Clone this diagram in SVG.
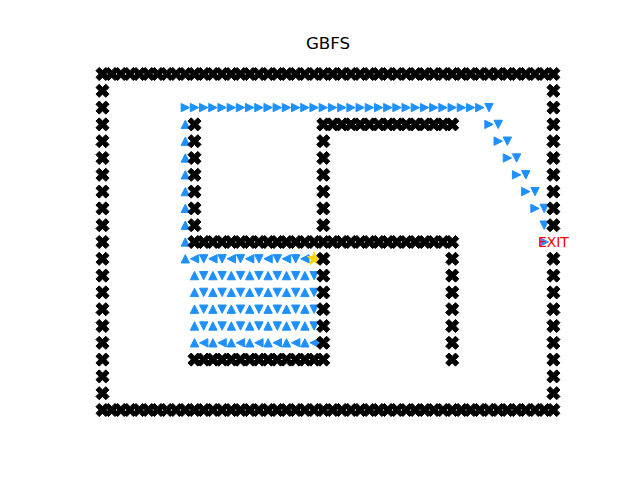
<svg xmlns="http://www.w3.org/2000/svg" width="640" height="480" viewBox="0 0 640 480">
<style>
.title{font-family:"DejaVu Sans",sans-serif;font-size:16.67px;fill:#000;text-anchor:middle}
.exit{font-family:"DejaVu Sans",sans-serif;font-size:13.9px;fill:#ff0000;text-anchor:middle}
#walls{fill:#000;stroke:#000;stroke-width:1;stroke-linejoin:miter}
#path{fill:#1e90ff;stroke:#1e90ff;stroke-width:1;stroke-linejoin:miter}
</style>
<defs>
<path id="X" d="M3.27,-6.55L6.55,-3.27L3.27,0L6.55,3.27L3.27,6.55L0,3.27L-3.27,6.55L-6.55,3.27L-3.27,0L-6.55,-3.27L-3.27,-6.55L0,-3.27Z"/>
<path id="u" d="M0,-4.17L-4.17,4.17L4.17,4.17Z"/>
<path id="d" d="M0,4.17L-4.17,-4.17L4.17,-4.17Z"/>
<path id="l" d="M-4.17,0L4.17,-4.17L4.17,4.17Z"/>
<path id="r" d="M4.17,0L-4.17,-4.17L-4.17,4.17Z"/>
</defs>
<rect width="640" height="480" fill="#fff"/>
<text class="title" x="328" y="49">GBFS</text>

<g id="path">
<g id="row2" transform="translate(0 107.6)">
<use href="#r" x="185.3"/><use href="#r" x="194.5"/><use href="#r" x="203.7"/><use href="#r" x="212.9"/><use href="#r" x="222.1"/><use href="#r" x="231.3"/><use href="#r" x="240.5"/><use href="#r" x="249.7"/><use href="#r" x="258.9"/><use href="#r" x="268.1"/><use href="#r" x="277.3"/><use href="#r" x="286.5"/><use href="#r" x="295.7"/><use href="#r" x="304.9"/><use href="#r" x="314.1"/><use href="#r" x="323.3"/><use href="#r" x="332.6"/><use href="#r" x="341.8"/><use href="#r" x="351.0"/><use href="#r" x="360.2"/><use href="#r" x="369.4"/><use href="#r" x="378.6"/><use href="#r" x="387.8"/><use href="#r" x="397.0"/><use href="#r" x="406.2"/><use href="#r" x="415.4"/><use href="#r" x="424.6"/><use href="#r" x="433.8"/><use href="#r" x="443.0"/><use href="#r" x="452.2"/><use href="#r" x="461.4"/><use href="#r" x="470.6"/><use href="#r" x="479.8"/><use href="#d" x="489.0"/>
</g>
<g id="stairs">
<use href="#r" x="489.0" y="124.4"/><use href="#d" x="498.2" y="124.4"/>
<use href="#r" x="498.2" y="141.2"/><use href="#d" x="507.4" y="141.2"/>
<use href="#r" x="507.4" y="158.0"/><use href="#d" x="516.6" y="158.0"/>
<use href="#r" x="516.6" y="174.8"/><use href="#d" x="525.8" y="174.8"/>
<use href="#r" x="525.8" y="191.6"/><use href="#d" x="535.0" y="191.6"/>
<use href="#r" x="535.0" y="208.4"/><use href="#d" x="544.2" y="208.4"/>
<use href="#d" x="544.2" y="225.2"/>
<use href="#r" x="544.2" y="242.0"/>
</g>
<g id="col9" transform="translate(185.3 0)">
<use href="#u" y="124.4"/><use href="#u" y="141.2"/><use href="#u" y="158.0"/><use href="#u" y="174.8"/><use href="#u" y="191.6"/><use href="#u" y="208.4"/><use href="#u" y="225.2"/><use href="#u" y="242.0"/><use href="#u" y="258.8"/>
</g>
<g id="row11" transform="translate(0 258.8)">
<use href="#l" x="194.5"/><use href="#d" x="203.7"/><use href="#l" x="212.9"/><use href="#d" x="222.1"/><use href="#l" x="231.3"/><use href="#d" x="240.5"/><use href="#l" x="249.7"/><use href="#d" x="258.9"/><use href="#l" x="268.1"/><use href="#d" x="277.3"/><use href="#l" x="286.5"/><use href="#d" x="295.7"/><use href="#l" x="304.9"/>
</g>
<g id="row12" transform="translate(0 275.6)">
<use href="#u" x="194.5"/><use href="#d" x="203.7"/><use href="#u" x="212.9"/><use href="#d" x="222.1"/><use href="#u" x="231.3"/><use href="#d" x="240.5"/><use href="#u" x="249.7"/><use href="#d" x="258.9"/><use href="#u" x="268.1"/><use href="#d" x="277.3"/><use href="#u" x="286.5"/><use href="#d" x="295.7"/><use href="#u" x="304.9"/><use href="#d" x="314.1"/>
</g>
<g id="row13" transform="translate(0 292.4)">
<use href="#u" x="194.5"/><use href="#d" x="203.7"/><use href="#u" x="212.9"/><use href="#d" x="222.1"/><use href="#u" x="231.3"/><use href="#d" x="240.5"/><use href="#u" x="249.7"/><use href="#d" x="258.9"/><use href="#u" x="268.1"/><use href="#d" x="277.3"/><use href="#u" x="286.5"/><use href="#d" x="295.7"/><use href="#u" x="304.9"/><use href="#d" x="314.1"/>
</g>
<g id="row14" transform="translate(0 309.2)">
<use href="#u" x="194.5"/><use href="#d" x="203.7"/><use href="#u" x="212.9"/><use href="#d" x="222.1"/><use href="#u" x="231.3"/><use href="#d" x="240.5"/><use href="#u" x="249.7"/><use href="#d" x="258.9"/><use href="#u" x="268.1"/><use href="#d" x="277.3"/><use href="#u" x="286.5"/><use href="#d" x="295.7"/><use href="#u" x="304.9"/><use href="#d" x="314.1"/>
</g>
<g id="row15" transform="translate(0 326.0)">
<use href="#u" x="194.5"/><use href="#d" x="203.7"/><use href="#u" x="212.9"/><use href="#d" x="222.1"/><use href="#u" x="231.3"/><use href="#d" x="240.5"/><use href="#u" x="249.7"/><use href="#d" x="258.9"/><use href="#u" x="268.1"/><use href="#d" x="277.3"/><use href="#u" x="286.5"/><use href="#d" x="295.7"/><use href="#u" x="304.9"/><use href="#d" x="314.1"/>
</g>
<g id="row16" transform="translate(0 342.8)">
<use href="#u" x="194.5"/><use href="#l" x="203.7"/><use href="#u" x="212.9"/><use href="#l" x="222.1"/><use href="#u" x="231.3"/><use href="#l" x="240.5"/><use href="#u" x="249.7"/><use href="#l" x="258.9"/><use href="#u" x="268.1"/><use href="#l" x="277.3"/><use href="#u" x="286.5"/><use href="#l" x="295.7"/><use href="#u" x="304.9"/><use href="#l" x="314.1"/>
</g>
</g>

<g id="start" transform="translate(314.1 258.8)">
<path d="M0,-7L1.57,-2.16L6.66,-2.16L2.54,0.83L4.11,5.66L0,2.67L-4.11,5.66L-2.54,0.83L-6.66,-2.16L-1.57,-2.16Z" fill="#ffd700" stroke="#ffd700" stroke-width="1"/>
</g>

<g id="walls">
<g id="wrow0" transform="translate(0 74)">
<use href="#X" x="102.5"/><use href="#X" x="111.7"/><use href="#X" x="120.9"/><use href="#X" x="130.1"/><use href="#X" x="139.3"/><use href="#X" x="148.5"/><use href="#X" x="157.7"/><use href="#X" x="166.9"/><use href="#X" x="176.1"/><use href="#X" x="185.3"/><use href="#X" x="194.5"/><use href="#X" x="203.7"/><use href="#X" x="212.9"/><use href="#X" x="222.1"/><use href="#X" x="231.3"/><use href="#X" x="240.5"/><use href="#X" x="249.7"/><use href="#X" x="258.9"/><use href="#X" x="268.1"/><use href="#X" x="277.3"/><use href="#X" x="286.5"/><use href="#X" x="295.7"/><use href="#X" x="304.9"/><use href="#X" x="314.1"/><use href="#X" x="323.3"/><use href="#X" x="332.6"/><use href="#X" x="341.8"/><use href="#X" x="351.0"/><use href="#X" x="360.2"/><use href="#X" x="369.4"/><use href="#X" x="378.6"/><use href="#X" x="387.8"/><use href="#X" x="397.0"/><use href="#X" x="406.2"/><use href="#X" x="415.4"/><use href="#X" x="424.6"/><use href="#X" x="433.8"/><use href="#X" x="443.0"/><use href="#X" x="452.2"/><use href="#X" x="461.4"/><use href="#X" x="470.6"/><use href="#X" x="479.8"/><use href="#X" x="489.0"/><use href="#X" x="498.2"/><use href="#X" x="507.4"/><use href="#X" x="516.6"/><use href="#X" x="525.8"/><use href="#X" x="535.0"/><use href="#X" x="544.2"/><use href="#X" x="553.4"/>
</g>
<g id="wrow20" transform="translate(0 410)">
<use href="#X" x="102.5"/><use href="#X" x="111.7"/><use href="#X" x="120.9"/><use href="#X" x="130.1"/><use href="#X" x="139.3"/><use href="#X" x="148.5"/><use href="#X" x="157.7"/><use href="#X" x="166.9"/><use href="#X" x="176.1"/><use href="#X" x="185.3"/><use href="#X" x="194.5"/><use href="#X" x="203.7"/><use href="#X" x="212.9"/><use href="#X" x="222.1"/><use href="#X" x="231.3"/><use href="#X" x="240.5"/><use href="#X" x="249.7"/><use href="#X" x="258.9"/><use href="#X" x="268.1"/><use href="#X" x="277.3"/><use href="#X" x="286.5"/><use href="#X" x="295.7"/><use href="#X" x="304.9"/><use href="#X" x="314.1"/><use href="#X" x="323.3"/><use href="#X" x="332.6"/><use href="#X" x="341.8"/><use href="#X" x="351.0"/><use href="#X" x="360.2"/><use href="#X" x="369.4"/><use href="#X" x="378.6"/><use href="#X" x="387.8"/><use href="#X" x="397.0"/><use href="#X" x="406.2"/><use href="#X" x="415.4"/><use href="#X" x="424.6"/><use href="#X" x="433.8"/><use href="#X" x="443.0"/><use href="#X" x="452.2"/><use href="#X" x="461.4"/><use href="#X" x="470.6"/><use href="#X" x="479.8"/><use href="#X" x="489.0"/><use href="#X" x="498.2"/><use href="#X" x="507.4"/><use href="#X" x="516.6"/><use href="#X" x="525.8"/><use href="#X" x="535.0"/><use href="#X" x="544.2"/><use href="#X" x="553.4"/>
</g>
<g id="wcol0" transform="translate(102.5 0)">
<use href="#X" y="90.8"/><use href="#X" y="107.6"/><use href="#X" y="124.4"/><use href="#X" y="141.2"/><use href="#X" y="158.0"/><use href="#X" y="174.8"/><use href="#X" y="191.6"/><use href="#X" y="208.4"/><use href="#X" y="225.2"/><use href="#X" y="242.0"/><use href="#X" y="258.8"/><use href="#X" y="275.6"/><use href="#X" y="292.4"/><use href="#X" y="309.2"/><use href="#X" y="326.0"/><use href="#X" y="342.8"/><use href="#X" y="359.6"/><use href="#X" y="376.4"/><use href="#X" y="393.2"/>
</g>
<g id="wcol49" transform="translate(553.4 0)">
<use href="#X" y="90.8"/><use href="#X" y="107.6"/><use href="#X" y="124.4"/><use href="#X" y="141.2"/><use href="#X" y="158.0"/><use href="#X" y="174.8"/><use href="#X" y="191.6"/><use href="#X" y="208.4"/><use href="#X" y="225.2"/><use href="#X" y="258.8"/><use href="#X" y="275.6"/><use href="#X" y="292.4"/><use href="#X" y="309.2"/><use href="#X" y="326.0"/><use href="#X" y="342.8"/><use href="#X" y="359.6"/><use href="#X" y="376.4"/><use href="#X" y="393.2"/>
</g>
<g id="wrow10" transform="translate(0 242)">
<use href="#X" x="194.5"/><use href="#X" x="203.7"/><use href="#X" x="212.9"/><use href="#X" x="222.1"/><use href="#X" x="231.3"/><use href="#X" x="240.5"/><use href="#X" x="249.7"/><use href="#X" x="258.9"/><use href="#X" x="268.1"/><use href="#X" x="277.3"/><use href="#X" x="286.5"/><use href="#X" x="295.7"/><use href="#X" x="304.9"/><use href="#X" x="314.1"/><use href="#X" x="323.3"/><use href="#X" x="332.6"/><use href="#X" x="341.8"/><use href="#X" x="351.0"/><use href="#X" x="360.2"/><use href="#X" x="369.4"/><use href="#X" x="378.6"/><use href="#X" x="387.8"/><use href="#X" x="397.0"/><use href="#X" x="406.2"/><use href="#X" x="415.4"/><use href="#X" x="424.6"/><use href="#X" x="433.8"/><use href="#X" x="443.0"/><use href="#X" x="452.2"/>
</g>
<g id="wcol10" transform="translate(194.5 0)">
<use href="#X" y="124.4"/><use href="#X" y="141.2"/><use href="#X" y="158.0"/><use href="#X" y="174.8"/><use href="#X" y="191.6"/><use href="#X" y="208.4"/><use href="#X" y="225.2"/>
</g>
<g id="wrow3" transform="translate(0 124.4)">
<use href="#X" x="323.3"/><use href="#X" x="332.6"/><use href="#X" x="341.8"/><use href="#X" x="351.0"/><use href="#X" x="360.2"/><use href="#X" x="369.4"/><use href="#X" x="378.6"/><use href="#X" x="387.8"/><use href="#X" x="397.0"/><use href="#X" x="406.2"/><use href="#X" x="415.4"/><use href="#X" x="424.6"/><use href="#X" x="433.8"/><use href="#X" x="443.0"/><use href="#X" x="452.2"/>
</g>
<g id="wcol24" transform="translate(323.3 0)">
<use href="#X" y="141.2"/><use href="#X" y="158.0"/><use href="#X" y="174.8"/><use href="#X" y="191.6"/><use href="#X" y="208.4"/><use href="#X" y="225.2"/><use href="#X" y="258.8"/><use href="#X" y="275.6"/><use href="#X" y="292.4"/><use href="#X" y="309.2"/><use href="#X" y="326.0"/><use href="#X" y="342.8"/>
</g>
<g id="wrow17" transform="translate(0 359.6)">
<use href="#X" x="194.5"/><use href="#X" x="203.7"/><use href="#X" x="212.9"/><use href="#X" x="222.1"/><use href="#X" x="231.3"/><use href="#X" x="240.5"/><use href="#X" x="249.7"/><use href="#X" x="258.9"/><use href="#X" x="268.1"/><use href="#X" x="277.3"/><use href="#X" x="286.5"/><use href="#X" x="295.7"/><use href="#X" x="304.9"/><use href="#X" x="314.1"/><use href="#X" x="323.3"/>
</g>
<g id="wcol38" transform="translate(452.2 0)">
<use href="#X" y="258.8"/><use href="#X" y="275.6"/><use href="#X" y="292.4"/><use href="#X" y="309.2"/><use href="#X" y="326.0"/><use href="#X" y="342.8"/><use href="#X" y="359.6"/>
</g>
</g>

<text class="exit" x="553.4" y="247">EXIT</text>
</svg>
